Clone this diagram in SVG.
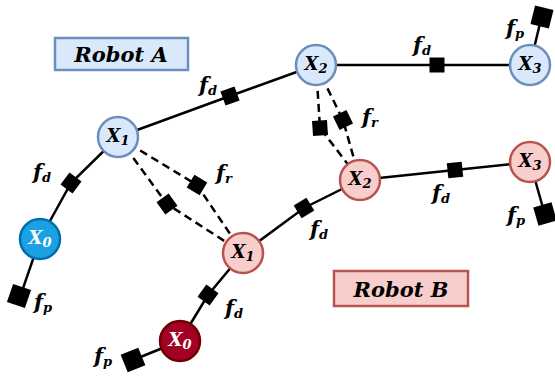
<svg xmlns="http://www.w3.org/2000/svg" width="555" height="382" viewBox="0 0 555 382">
<style>
.e{stroke:#000;stroke-width:2.5;fill:none}
.d{stroke:#000;stroke-width:2.5;fill:none;stroke-dasharray:8 5}
.f{fill:#000}
.t{font-family:"DejaVu Serif","Liberation Serif",serif;font-weight:bold;font-style:italic;fill:#000}
.nl{font-size:18px;text-anchor:middle}
.fl{font-size:21px;text-anchor:middle}
.sub{font-size:13px}
.A{fill:#dae8fc;stroke:#6c8ebf;stroke-width:2.5}
.B{fill:#f8cecc;stroke:#b85450;stroke-width:2.5}
.A0{fill:#1ba1e2;stroke:#006eaf;stroke-width:2.5}
.B0{fill:#a20025;stroke:#6f0000;stroke-width:2.5}
.w{fill:#fff}
</style>
<g id="connectors">
  <polyline class="e" points="40,239 71,183 118,137"/>
  <polyline class="e" points="118,137 230,96 316,65"/>
  <polyline class="e" points="316,65 437,65 530,65"/>
  <polyline class="e" points="530,65 542,15"/>
  <polyline class="e" points="40,239 20,297"/>
  <polyline class="e" points="180,341 208,295 243,253"/>
  <polyline class="e" points="243,253 304,208 360,180"/>
  <polyline class="e" points="360,180 455,170 530,162"/>
  <polyline class="e" points="530,162 545,215"/>
  <polyline class="e" points="180,341 133,360"/>
  <polyline class="d" points="118,137 167,204 243,253"/>
  <polyline class="d" points="118,137 197,185 243,253"/>
  <polyline class="d" points="316,65 320,128 360,180"/>
  <polyline class="d" points="316,65 343,120 360,180"/>
</g>
<g id="factors">
  <rect class="f" x="-7.5" y="-7.5" width="15" height="15" transform="translate(71,183) rotate(-53)"/>
  <rect class="f" x="-7.5" y="-7.5" width="15" height="15" transform="translate(230,96) rotate(-20)"/>
  <rect class="f" x="-7.5" y="-7.5" width="15" height="15" transform="translate(437,65)"/>
  <rect class="f" x="-9.5" y="-9.5" width="19" height="19" transform="translate(542,17) rotate(14)"/>
  <rect class="f" x="-9.5" y="-9.5" width="19" height="19" transform="translate(19,296) rotate(19)"/>
  <rect class="f" x="-7.5" y="-7.5" width="15" height="15" transform="translate(208,295) rotate(-54)"/>
  <rect class="f" x="-7.5" y="-7.5" width="15" height="15" transform="translate(304,208) rotate(-32)"/>
  <rect class="f" x="-7.5" y="-7.5" width="15" height="15" transform="translate(455,170) rotate(-6)"/>
  <rect class="f" x="-9.5" y="-9.5" width="19" height="19" transform="translate(545,214) rotate(-16)"/>
  <rect class="f" x="-9.5" y="-9.5" width="19" height="19" transform="translate(133,360) rotate(-22)"/>
  <rect class="f" x="-7.5" y="-7.5" width="15" height="15" transform="translate(167,204) rotate(54)"/>
  <rect class="f" x="-7.5" y="-7.5" width="15" height="15" transform="translate(197,185) rotate(31)"/>
  <rect class="f" x="-7.5" y="-7.5" width="15" height="15" transform="translate(320,128) rotate(86)"/>
  <rect class="f" x="-7.5" y="-7.5" width="15" height="15" transform="translate(343,120) rotate(64)"/>
</g>
<g id="factor-labels" class="t fl">
  <text x="42" y="179">f<tspan class="sub" dy="3">d</tspan></text>
  <text x="208" y="92">f<tspan class="sub" dy="3">d</tspan></text>
  <text x="422" y="52">f<tspan class="sub" dy="3">d</tspan></text>
  <text x="515" y="35">f<tspan class="sub" dy="3">p</tspan></text>
  <text x="43" y="309">f<tspan class="sub" dy="3">p</tspan></text>
  <text x="234" y="315">f<tspan class="sub" dy="3">d</tspan></text>
  <text x="319" y="236">f<tspan class="sub" dy="3">d</tspan></text>
  <text x="441" y="200">f<tspan class="sub" dy="3">d</tspan></text>
  <text x="516" y="222">f<tspan class="sub" dy="3">p</tspan></text>
  <text x="103" y="363">f<tspan class="sub" dy="3">p</tspan></text>
  <text x="224" y="180">f<tspan class="sub" dy="3">r</tspan></text>
  <text x="370" y="124">f<tspan class="sub" dy="3">r</tspan></text>
</g>
<g id="robotA-label">
  <rect x="55" y="38" width="133" height="32" class="A" stroke-width="2"/>
  <text x="121" y="62" class="t" font-size="21" text-anchor="middle">Robot A</text>
</g>
<g id="robotB-label">
  <rect x="334" y="271" width="134" height="35" class="B" stroke-width="2"/>
  <text x="401" y="297" class="t" font-size="21" text-anchor="middle">Robot B</text>
</g>
<g id="A_X0"><circle cx="40" cy="239" r="20" class="A0"/><text x="40" y="244" class="t nl w">X<tspan class="sub" dy="3">0</tspan></text></g>
<g id="A_X1"><circle cx="118" cy="137" r="20" class="A"/><text x="118" y="142" class="t nl">X<tspan class="sub" dy="3">1</tspan></text></g>
<g id="A_X2"><circle cx="316" cy="65" r="20" class="A"/><text x="316" y="70" class="t nl">X<tspan class="sub" dy="3">2</tspan></text></g>
<g id="A_X3"><circle cx="530" cy="65" r="20" class="A"/><text x="530" y="70" class="t nl">X<tspan class="sub" dy="3">3</tspan></text></g>
<g id="B_X0"><circle cx="180" cy="341" r="20" class="B0"/><text x="180" y="346" class="t nl w">X<tspan class="sub" dy="3">0</tspan></text></g>
<g id="B_X1"><circle cx="243" cy="253" r="20" class="B"/><text x="243" y="258" class="t nl">X<tspan class="sub" dy="3">1</tspan></text></g>
<g id="B_X2"><circle cx="360" cy="180" r="20" class="B"/><text x="360" y="185" class="t nl">X<tspan class="sub" dy="3">2</tspan></text></g>
<g id="B_X3"><circle cx="530" cy="162" r="20" class="B"/><text x="530" y="167" class="t nl">X<tspan class="sub" dy="3">3</tspan></text></g>
</svg>
